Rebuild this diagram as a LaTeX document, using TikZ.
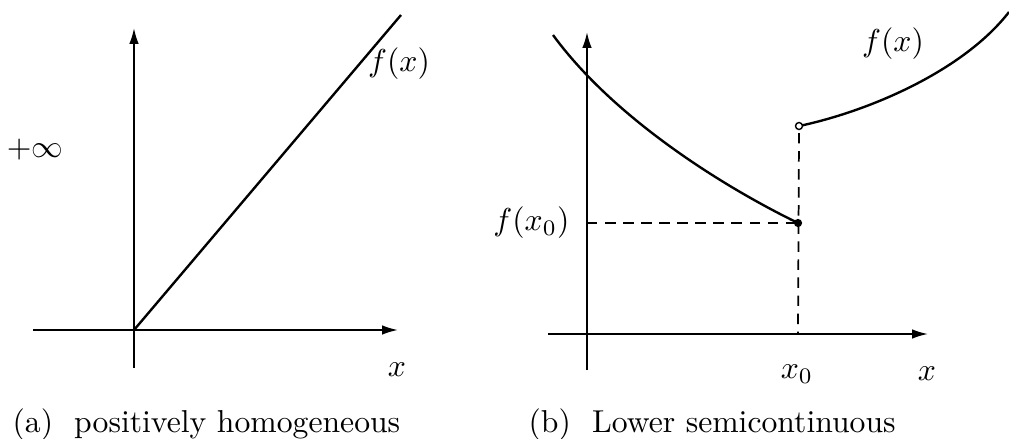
\documentclass[tikz,border=0pt]{standalone}
\usepackage{xcolor}
\usepackage{tikz}
\usetikzlibrary{arrows.meta}

\begin{document}
\begin{tikzpicture}[x=0.0111cm, y=-0.0111cm,
    axis/.style={line width=0.55pt, -{Latex[length=5pt, width=3pt]}},
    graph/.style={line width=0.75pt},
    guide/.style={line width=0.55pt, dash pattern=on 3.3pt off 2.4pt},
    every node/.style={inner sep=0pt}]
    \useasboundingbox (0,0) rectangle (1009,438);
    % (a) positively homogeneous
    \coordinate (o1) at (134,330);
    \coordinate (ybot1) at (134,368);
    \coordinate (ytop1) at (134,28);
    \coordinate (xleft1) at (33,330);
    \coordinate (xright1) at (398,330);
    \coordinate (rayend) at (401,15);
    \draw[axis] (ybot1) -- (ytop1);
    \draw[axis] (xleft1) -- (xright1);
    \draw[graph] (o1) -- (rayend);
    \node (fa) at (399,64) {$f(x)$};
    \node (inf) at (35,150) {$+\infty$};
    \node (xa) at (397,370) {$x$};
    \node (capa) [anchor=base west] at (12,432) {(a)\ \ positively homogeneous};
    % (b) Lower semicontinuous
    \coordinate (ybot2) at (587,370);
    \coordinate (ytop2) at (587,32);
    \coordinate (xleft2) at (548,334);
    \coordinate (xright2) at (928,334);
    \coordinate (lstart) at (553,35);
    \coordinate (lowpt) at (798,223);
    \coordinate (openpt) at (799,126);
    \coordinate (rend) at (1009,12);
    \coordinate (yfoot) at (587,223);
    \coordinate (xfoot) at (798,334);
    \draw[axis] (ybot2) -- (ytop2);
    \draw[axis] (xleft2) -- (xright2);
    \draw[graph] (lstart) .. controls (613,117) and (720,185) .. (lowpt);
    \draw[graph] (openpt) ++(3,-0.6) .. controls (872,110) and (964,70) .. (rend);
    \draw[guide] (yfoot) -- (lowpt);
    \draw[guide] (openpt) ++(0,7) -- (xfoot);
    \fill (lowpt) circle (1.3pt);
    \draw[line width=0.45pt] (openpt) circle (1.1pt);
    \node (fx0) [anchor=east] at (570,223) {$f(x_0)$};
    \node (fb) at (893,44) {$f(x)$};
    \node (x0) at (797,374) {$x_0$};
    \node (xb) at (927,374) {$x$};
    \node (capb) [anchor=base west] at (528,432) {(b)\ \ Lower semicontinuous};
\end{tikzpicture}
\end{document}
